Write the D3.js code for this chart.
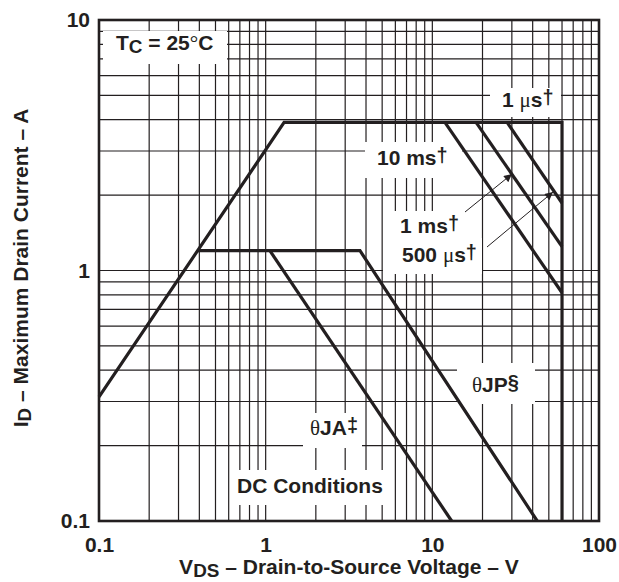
<!DOCTYPE html>
<html>
<head>
<meta charset="utf-8">
<script src="https://cdn.jsdelivr.net/npm/d3@7"></script>
<style>
  html, body { margin: 0; padding: 0; background: #fff; }
  svg text { font-family: "Liberation Sans", Arial, Helvetica, sans-serif; font-weight: bold; fill: #231f20; }
</style>
</head>
<body>
<svg id="chart" width="619" height="582"></svg>
<script>
// ---- data ----
const xTickValues = [0.1, 1, 10, 100];
const xTickLabels = ["0.1", "1", "10", "100"];
const yTickValues = [0.1, 1, 10];
const yTickLabels = ["0.1", "1", "10"];
const xGridValues = [0.2,0.3,0.4,0.5,0.6,0.7,0.8,0.9,1,2,3,4,5,6,7,8,9,10,20,30,40,50,60,70,80,90];
const yGridValues = [0.2,0.3,0.4,0.5,0.6,0.7,0.8,0.9,1,2,3,4,5,6,7,8,9];

// SOA outer boundary (1 µs): R_DS(on) limit, current limit, voltage limit
const soaV = [0.1, 1.29, 60, 60];
const soaI = [0.313, 3.9, 3.9, 0.1];
// pulse lines
const pulse10msV = [11.9, 60];   const pulse10msI = [3.9, 0.815];
const pulse1msV  = [18.3, 60];   const pulse1msI  = [3.9, 1.245];
const pulse500usV = [28.1, 60];  const pulse500usI = [3.9, 1.86];
// DC conditions
const thetaJPV = [0.39, 3.68, 42.6]; const thetaJPI = [1.2, 1.2, 0.1];
const thetaJAV = [1.06, 13.06];      const thetaJAI = [1.2, 0.1];

// ---- layout ----
const svg = d3.select("#chart");
const L = 99, R = 599, T = 20, B = 521;
const x = d3.scaleLog().domain([0.1, 100]).range([L, R]);
const y = d3.scaleLog().domain([0.1, 10]).range([B, T]);
const ink = "#231f20";

// grid
const grid = svg.append("g").attr("stroke", ink).attr("stroke-width", 1.2);
grid.selectAll("line.v").data(xGridValues).join("line")
  .attr("x1", d => x(d)).attr("x2", d => x(d)).attr("y1", T).attr("y2", B);
grid.selectAll("line.h").data(yGridValues).join("line")
  .attr("x1", L).attr("x2", R).attr("y1", d => y(d)).attr("y2", d => y(d));

// white label backgrounds (interrupt the grid)
const boxes = [
  [103, 31, 227, 64],   // Tc
  [490, 88, 561, 117],  // 1 us
  [365, 142, 462, 178], // 10 ms
  [383, 211, 469, 240], // 1 ms
  [383, 238, 482, 274], // 500 us
  [457, 363, 535, 404], // thetaJP
  [303, 413, 362, 448], // thetaJA
  [231, 470, 394, 505]  // DC Conditions
];
svg.append("g").selectAll("rect").data(boxes).join("rect")
  .attr("x", d => d[0]).attr("y", d => d[1])
  .attr("width", d => d[2] - d[0]).attr("height", d => d[3] - d[1])
  .attr("fill", "#fff");

// curves
const line = d3.line().x(d => x(d[0])).y(d => y(d[1]));
const curves = [
  [soaV, soaI], [pulse10msV, pulse10msI], [pulse1msV, pulse1msI],
  [pulse500usV, pulse500usI], [thetaJPV, thetaJPI], [thetaJAV, thetaJAI]
];
svg.append("g").selectAll("path").data(curves).join("path")
  .attr("d", c => line(c[0].map((v, i) => [v, c[1][i]])))
  .attr("fill", "none").attr("stroke", ink).attr("stroke-width", 3.2)
  .attr("stroke-linejoin", "miter");

// frame
svg.append("rect").attr("x", L).attr("y", T).attr("width", R - L).attr("height", B - T)
  .attr("fill", "none").attr("stroke", ink).attr("stroke-width", 2.6);

// axes (labels only)
const xAxis = d3.axisBottom(x).tickValues(xTickValues)
  .tickFormat((d, i) => xTickLabels[i]).tickSize(0).tickPadding(16);
const gx = svg.append("g").attr("transform", `translate(0,${B})`).call(xAxis);
const yAxis = d3.axisLeft(y).tickValues(yTickValues)
  .tickFormat((d, i) => yTickLabels[i]).tickSize(0).tickPadding(9);
const gy = svg.append("g").attr("transform", `translate(${L},0)`).call(yAxis);
[gx, gy].forEach(g => {
  g.select(".domain").remove();
  g.selectAll("text").attr("font-size", 21).attr("font-family", null)
    .attr("fill", ink).style("font-weight", "bold");
});

// rich text helper
function rich(xp, yp, parts, size, anchor) {
  const t = svg.append("text").attr("x", xp).attr("y", yp)
    .attr("font-size", size).attr("text-anchor", anchor || "start");
  let shift = 0;
  parts.forEach(([s, k]) => {
    const ts = t.append("tspan").text(s);
    let target = 0;
    if (k === "sub") { ts.attr("font-size", size * 0.9); target = size * 0.16; }
    else if (k === "sup") { ts.attr("font-size", size * 0.95); target = -size * 0.14; }
    else if (k === "greek") { ts.attr("font-family", "'Liberation Serif', 'DejaVu Serif', serif").style("font-weight", "normal"); }
    else if (k === "deg") { ts.attr("font-family", "'Liberation Serif', serif").style("font-weight", "normal"); }
    if (target !== shift) { ts.attr("dy", target - shift); shift = target; }
  });
  return t;
}

const fs = 21;
rich(116, 50, [["T","n"],["C","sub"],[" = 25","n"],["°","deg"],["C","n"]], fs);
rich(502, 107, [["1 ","n"],["μ","greek"],["s","n"],["†","sup"]], fs);
rich(377, 165, [["10 ms","n"],["†","sup"]], fs);
rich(400, 233, [["1 ms","n"],["†","sup"]], fs);
rich(402, 262, [["500 ","n"],["μ","greek"],["s","n"],["†","sup"]], fs);
rich(472, 392, [["θ","greek"],["JP","n"],["§","sup"]], fs);
rich(310, 435, [["θ","greek"],["JA","n"],["‡","sup"]], fs);
rich(237, 493, [["DC Conditions","n"]], fs);

// axis titles
rich(349, 574, [["V","n"],["DS","sub"],[" – Drain-to-Source Voltage – V","n"]], 21, "middle");
rich(0, 0, [["I","n"],["D","sub"],[" – Maximum Drain Current – A","n"]], 21, "middle")
  .attr("transform", "translate(28,268) rotate(-90)");

// arrows
const defs = svg.append("defs");
defs.append("marker").attr("id", "ah").attr("viewBox", "0 0 10 10")
  .attr("refX", 10).attr("refY", 5).attr("markerWidth", 11).attr("markerHeight", 8)
  .attr("markerUnits", "userSpaceOnUse").attr("orient", "auto")
  .append("path").attr("d", "M0,0 L10,5 L0,10 Z").attr("fill", ink);
const arrows = [[465, 212, 512, 174], [487, 247, 553, 192]];
svg.append("g").selectAll("line").data(arrows).join("line")
  .attr("x1", d => d[0]).attr("y1", d => d[1]).attr("x2", d => d[2]).attr("y2", d => d[3])
  .attr("stroke", ink).attr("stroke-width", 1).attr("marker-end", "url(#ah)");
</script>
</body>
</html>
